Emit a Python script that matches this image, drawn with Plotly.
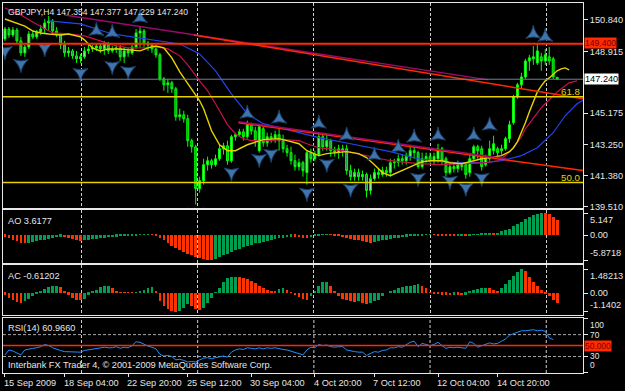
import plotly.graph_objects as go

# ---------------- data ----------------
bars = list(range(140))
opens = [149.69,150.29,149.93,150.23,149.57,148.84,149.20,149.99,149.81,150.11,
         150.29,150.66,150.78,150.17,149.99,149.32,148.84,148.96,148.66,148.48,
         148.60,148.96,149.08,149.14,149.26,149.08,149.38,148.96,149.08,149.14,
         148.60,148.96,148.84,149.20,150.05,150.17,149.44,149.32,149.08,148.72,
         147.26,146.90,147.02,146.66,144.96,145.08,144.84,143.51,143.14,140.60,
         141.08,142.05,142.29,142.05,142.41,143.02,143.20,142.29,143.75,143.87,
         144.05,143.75,144.48,144.11,142.90,144.23,143.38,143.75,143.63,143.87,
         143.51,143.02,142.78,142.29,141.93,142.17,141.57,142.78,142.41,142.66,
         143.75,143.14,143.51,142.90,142.78,143.02,143.02,141.69,141.32,141.57,
         141.32,141.45,140.48,141.20,141.57,141.45,141.69,141.57,142.17,142.20,
         142.41,142.29,142.54,142.90,142.78,141.93,142.41,142.54,142.29,142.41,
         143.02,142.41,141.57,141.93,141.81,142.05,142.05,141.57,142.41,143.14,
         143.02,142.05,142.41,142.90,143.02,142.90,143.02,143.63,144.60,146.17,
         146.90,147.38,148.35,148.48,148.23,148.60,148.35,148.60,148.48,147.354]
highs = [150.41,150.41,150.41,150.35,149.81,149.32,150.17,150.17,150.23,150.54,
         150.90,151.08,150.90,150.41,150.05,149.57,149.20,149.08,148.96,148.78,
         149.20,149.32,149.32,149.44,149.44,149.57,149.51,149.26,149.32,149.32,
         149.20,149.14,149.32,150.29,150.41,150.29,149.57,149.44,149.20,148.84,
         147.38,147.26,147.14,146.78,145.45,145.32,145.08,143.63,143.26,141.32,
         142.41,142.54,142.41,142.66,143.26,143.38,143.51,143.87,143.99,144.23,
         144.23,144.72,144.60,144.35,144.48,144.35,143.99,143.99,144.11,144.23,
         143.87,143.26,143.14,142.66,142.41,142.29,142.90,143.02,142.90,143.99,
         143.87,143.87,143.63,143.14,143.26,143.26,143.26,142.05,141.81,141.81,
         141.69,141.57,141.45,141.81,141.81,141.93,141.93,142.41,142.41,142.66,
         142.66,142.78,143.14,143.14,142.90,142.78,142.78,142.78,142.78,143.32,
         143.14,142.54,142.17,142.17,142.29,142.17,142.17,142.66,143.26,143.26,
         143.20,142.66,143.51,143.81,143.14,143.26,143.75,144.72,146.29,147.02,
         147.63,148.48,148.72,149.26,149.38,148.84,149.08,149.20,148.60,147.377]
lows = [149.57,149.75,149.81,149.44,148.66,148.60,149.08,149.69,149.69,149.93,
        150.05,150.17,149.93,149.81,149.08,148.60,148.60,148.48,148.23,148.23,
        148.48,148.78,148.90,148.96,148.84,148.72,148.78,148.84,148.84,148.35,
        148.23,148.60,148.72,149.08,149.20,149.20,148.96,148.84,148.54,147.14,
        146.54,146.41,146.41,144.72,144.72,144.60,143.14,142.78,139.63,140.35,
        140.84,141.69,141.81,141.93,142.29,142.66,142.05,142.17,143.51,143.75,
        143.51,143.63,143.87,143.14,142.78,143.14,143.14,143.38,143.38,142.90,
        142.78,142.54,142.05,141.69,141.69,141.32,140.84,142.17,142.29,142.54,
        142.90,142.90,142.54,142.54,142.41,142.54,141.45,141.08,141.08,141.08,
        141.08,140.05,140.23,141.08,141.20,141.32,141.32,141.32,141.81,141.93,
        142.05,142.05,142.29,142.41,141.81,141.81,142.17,142.17,142.05,142.17,
        142.05,141.32,141.45,141.57,141.57,141.69,141.20,141.32,142.29,142.41,
        141.69,141.93,142.29,142.66,142.54,142.66,142.90,143.38,144.48,146.05,
        146.66,147.26,147.75,148.11,148.11,147.75,148.11,148.11,147.26,147.229]
closes = [150.29,149.93,150.23,149.57,148.84,149.20,149.99,149.81,150.11,150.29,
          150.66,150.78,150.17,149.99,149.32,148.84,148.96,148.66,148.48,148.60,
          148.96,149.08,149.14,149.26,149.08,149.38,148.96,149.08,149.14,148.60,
          148.96,148.84,149.20,150.05,150.17,149.44,149.32,149.08,148.72,147.26,
          146.90,147.02,146.66,144.96,145.08,144.84,143.51,143.14,140.60,141.08,
          142.05,142.29,142.05,142.41,143.02,143.20,142.29,143.75,143.87,144.05,
          143.75,144.48,144.11,143.51,144.35,143.38,143.75,143.63,143.87,143.51,
          143.02,142.78,142.29,141.93,142.17,141.69,142.78,142.41,142.66,143.75,
          143.14,143.51,142.90,142.78,143.02,142.90,141.69,141.32,141.57,141.32,
          141.45,140.48,141.20,141.57,141.45,141.69,141.57,142.17,142.20,142.41,
          142.29,142.54,142.90,142.78,141.93,142.41,142.54,142.29,142.54,143.02,
          142.29,141.57,141.93,141.81,142.05,141.93,141.45,142.41,143.14,142.90,
          141.93,142.41,143.02,143.32,142.78,143.02,143.63,144.48,146.17,146.90,
          147.38,148.35,148.54,148.60,148.96,148.35,148.72,148.35,147.38,147.240]

# Alligator lines (bar index, price)
lips_bars = [0,3,5,7,9,11,14,16,19,20,22,24,26,29,31,34,36,38,40,42,44,47,49,50,51,52,54,56,58,61,
             65,69,71,74,76,79,81,84,86,89,91,93,94,95,97,100,102,105,107,110,112,115,117,120,122,125,
             127,128,129,130,131,132,133,134,135,136,137,138,139,140,141,142]
lips_vals = [150.90,150.66,150.47,150.17,150.05,149.99,149.93,149.99,149.81,149.63,149.14,148.96,149.08,149.08,
             149.02,148.96,149.14,149.26,149.14,148.54,147.69,146.66,145.93,145.45,144.84,144.11,143.26,142.90,
             142.90,143.26,143.57,143.63,143.51,143.32,142.90,142.60,142.72,142.78,142.84,142.72,142.48,142.05,
             141.81,141.57,141.38,141.69,141.93,142.23,142.29,142.29,142.17,142.11,142.23,142.41,142.48,142.60,
             142.84,143.08,143.45,143.99,144.60,145.26,145.93,146.47,146.84,147.14,147.32,147.51,147.75,147.87,
             147.93,147.81]
teeth_bars = [0,4,7,10,12,16,20,24,27,31,35,38,41,44,46,49,51,53,56,58,60,62,66,70,74,76,79,85,91,97,
              104,110,116,121,124,126,128,130,131,133,135,137,139,141,142,144]
teeth_vals = [151.57,151.14,150.72,150.29,150.05,149.99,149.87,149.57,149.32,149.14,149.14,149.20,149.08,148.66,
              148.11,147.14,146.54,145.75,144.48,143.93,143.63,143.51,143.51,143.57,143.51,143.32,143.08,142.90,
              142.60,142.29,142.11,142.05,142.11,142.17,142.29,142.60,143.08,143.75,144.23,144.84,145.51,145.99,
              146.47,146.84,147.02,147.14]
jaw_bars = [11,19,27,34,39,44,49,53,57,61,65,70,79,87,97,104,113,121,125,130,134,138,141,144,147]
jaw_vals = [150.78,150.60,149.99,149.75,149.57,149.38,148.78,147.75,146.35,145.14,144.54,144.23,143.69,143.32,
            142.84,142.41,142.17,142.17,142.29,142.60,143.08,143.99,145.02,145.75,146.17]

# trend lines (bar, price) pairs
trend_x0 = [15, 47.5, 58.75, 58.75]
trend_y0 = [151.14, 149.93, 144.60, 144.66]
trend_x1 = [121.75, 145.5, 145.5, 126.25]
trend_y1 = [147.20, 146.05, 141.69, 142.41]
trend_colors = ["#9A0A6A", "#FF2A00", "#FF2A00", "#9A0A6A"]

# fractals
frac_up_bars = [23, 27, 34, 61, 69, 79, 86, 93, 99, 103, 109, 118, 122, 133, 136]
frac_up_vals = [150.17, 150.05, 150.96, 145.14, 144.84, 144.54, 143.81, 142.60, 143.08, 143.69,
                143.81, 143.81, 144.42, 149.99, 149.81]
frac_dn_bars = [0, 4, 10, 19, 27, 31, 48, 57, 64, 67, 76, 81, 87, 104, 112, 116, 120]
frac_dn_vals = [148.96, 148.17, 149.14, 147.63, 148.05, 147.75, 139.14, 141.57, 142.41, 142.72,
                140.35, 142.11, 140.60, 141.26, 141.08, 140.66, 141.26]

# Awesome oscillator
ao_vals = [-0.4,-0.8,-1.1,-1.5,-1.8,-2.0,-1.9,-1.7,-1.5,-1.3,-1.1,-0.9,-0.8,-0.6,-0.45,-0.5,-0.7,-0.9,-1.2,-1.4,
           -1.3,-1.1,-1.0,-0.9,-0.8,-0.7,-0.6,-0.5,-0.4,-0.35,-0.3,-0.25,-0.2,-0.1,0.02,0.1,0.15,0.1,-0.2,-0.7,
           -1.3,-1.9,-2.5,-3.1,-3.6,-4.0,-4.4,-4.8,-5.1,-5.45,-5.7,-5.85,-5.87,-5.6,-5.2,-4.8,-4.4,-4.0,-3.6,-3.2,
           -2.9,-2.6,-2.3,-2.0,-1.8,-1.6,-1.4,-1.2,-1.0,-0.8,-0.7,-0.5,-0.4,-0.45,-0.6,-0.7,-0.8,-0.6,-0.3,-0.1,
           0.1,0.2,0.15,-0.1,-0.3,-0.5,-0.7,-0.9,-1.1,-1.3,-1.5,-1.7,-1.8,-1.6,-1.4,-1.3,-1.1,-1.0,-0.8,-0.7,
           -0.55,-0.45,-0.35,-0.25,-0.15,-0.1,0.05,0.1,0.05,-0.05,-0.1,-0.15,-0.2,-0.25,-0.2,-0.15,-0.2,-0.1,0.1,0.2,
           0.25,0.3,0.35,0.3,0.5,0.8,1.1,1.5,2.0,2.6,3.1,3.7,4.2,4.7,5.0,5.147,5.1,4.8,4.3,3.6177]
# bar colour runs (direction, number of bars)
ao_dir_runs = [("r", 6), ("g", 9), ("r", 5), ("g", 17), ("r", 16), ("g", 20), ("r", 4), ("g", 5),
               ("r", 11), ("g", 15), ("r", 6), ("g", 2), ("r", 1), ("g", 6), ("r", 1), ("g", 12), ("r", 4)]

# Accelerator oscillator
ac_vals = [-0.1,-0.3,-0.45,-0.55,-0.6,-0.5,-0.35,-0.2,-0.05,0.1,0.25,0.35,0.45,0.45,0.35,0.15,-0.1,-0.3,-0.4,-0.45,
           -0.35,-0.1,0.1,0.2,0.35,0.4,0.4,0.3,0.15,0.05,0.03,0.02,0.02,0.03,0.1,0.2,0.3,0.35,0.1,-0.5,
           -0.8,-1.0,-1.1,-1.14,-1.1,-0.9,-0.7,-0.8,-0.95,-1.05,-0.9,-0.6,-0.3,0.05,0.3,0.7,0.9,0.95,0.97,0.95,
           0.9,0.85,0.75,0.6,0.45,0.3,0.2,0.15,0.12,0.25,0.3,0.2,0.05,-0.15,-0.25,-0.35,-0.45,-0.2,0.15,0.45,
           0.65,0.7,0.45,0.1,-0.2,-0.35,-0.45,-0.5,-0.55,-0.5,-0.6,-0.65,-0.6,-0.5,-0.4,-0.2,0.0,0.1,0.2,0.3,
           0.35,0.4,0.45,0.5,0.55,0.4,0.3,0.02,-0.05,-0.08,-0.1,-0.12,-0.15,-0.1,-0.12,-0.15,-0.1,0.1,0.2,0.25,
           0.3,0.32,0.3,0.2,0.15,0.3,0.55,0.8,1.05,1.3,1.48213,1.35,1.0,0.7,0.4,0.2,-0.05,-0.2,-0.4,-0.61202]
ac_dir_runs = [("r", 5), ("g", 9), ("r", 6), ("g", 7), ("r", 6), ("g", 5), ("r", 6), ("g", 3), ("r", 3),
               ("g", 9), ("r", 10), ("g", 2), ("r", 6), ("g", 5), ("r", 7), ("g", 1), ("r", 2), ("g", 13),
               ("r", 8), ("g", 1), ("r", 2), ("g", 6), ("r", 3), ("g", 6), ("r", 9)]

# RSI(14)
rsi_vals = [33,42,40,37,33,42,44,45,46,48,52,50,46,43,41,39,39,38,38,38,
            41,42,44,45,46,47,46,46,48,45,47,46,50,57,56,52,49,47,44,34,
            31,32,30,24,25,23,20,21,20,24,27,28,26,28,30,31,29,38,42,44,
            43,46,45,44,46,44,46,45,46,44,43,42,40,37,36,33,42,47,46,52,
            50,51,48,47,48,48,42,40,39,38,38,32,36,39,38,41,42,46,46,48,
            47,51,56,58,48,54,52,50,52,56,50,45,47,46,47,46,45,57,54,47,
            50,53,55,53,54,58,62,69,72,74,77,77,78,79,77,78,76,64,60.966]

price_ticks = [150.840, 148.915, 145.175, 143.250, 141.380, 139.510]
resistance_level = 149.400
bid_price = 147.240
fib_levels = [146.17, 140.96]
fib_labels = ["61.8", "50.0"]
time_label_bars = [0, 15, 31, 46, 62, 78, 93, 109, 124]
time_labels = ["15 Sep 2009", "18 Sep 04:00", "22 Sep 20:00", "25 Sep 12:00", "30 Sep 04:00",
               "4 Oct 20:00", "7 Oct 12:00", "12 Oct 04:00", "14 Oct 20:00"]
grid_bars = [19.25, 48.5, 77.75, 107.0, 136.25]
ao_labels = [5.147, 0.0, -5.8718]
ac_labels = [1.48213, 0.0, -1.1402]
rsi_labels = [100, 70, 30, 0]
rsi_levels = [70, 30]
rsi_mid = 50.0

# ---------------- styling ----------------
FONT = "Liberation Sans, Arial, sans-serif"
FS = 9.2
TXT = "#E6E6E6"
FRAME = "#E8E8E8"
GREEN = "#009E50"
RED = "#FF3300"
XR = [-0.5, 145.5]


def expand(runs):
    out = []
    for d, n in runs:
        out.extend([d] * n)
    return out


ao_colors = [GREEN if d == "g" else RED for d in expand(ao_dir_runs)]
ac_colors = [GREEN if d == "g" else RED for d in expand(ac_dir_runs)]

fig = go.Figure()

fig.add_trace(go.Candlestick(
    x=bars, open=opens, high=highs, low=lows, close=closes,
    increasing=dict(line=dict(color="#00FF00", width=1), fillcolor="#8CF08C"),
    decreasing=dict(line=dict(color="#00FF00", width=1), fillcolor="#1F8F4F"),
    whiskerwidth=0, xaxis="x", yaxis="y", showlegend=False, hoverinfo="skip"))

for bx, vy, col, w in [(jaw_bars, jaw_vals, "#2244EE", 1.2),
                       (teeth_bars, teeth_vals, "#C8104A", 1.2),
                       (lips_bars, lips_vals, "#E6D200", 1.4)]:
    fig.add_trace(go.Scatter(x=bx, y=vy, mode="lines", line=dict(color=col, width=w),
                             xaxis="x", yaxis="y", showlegend=False, hoverinfo="skip"))

for x0, y0, x1, y1, col in zip(trend_x0, trend_y0, trend_x1, trend_y1, trend_colors):
    fig.add_trace(go.Scatter(x=[x0, x1], y=[y0, y1], mode="lines", line=dict(color=col, width=1.5),
                             xaxis="x", yaxis="y", showlegend=False, hoverinfo="skip"))

fig.add_trace(go.Scatter(x=frac_up_bars, y=frac_up_vals, mode="markers",
                         marker=dict(symbol="star-triangle-up", size=11, color="#3F74AE",
                                     line=dict(color="#1B3F66", width=1)),
                         xaxis="x", yaxis="y", showlegend=False, hoverinfo="skip"))
fig.add_trace(go.Scatter(x=frac_dn_bars, y=frac_dn_vals, mode="markers",
                         marker=dict(symbol="star-triangle-down", size=11, color="#3F74AE",
                                     line=dict(color="#1B3F66", width=1)),
                         xaxis="x", yaxis="y", showlegend=False, hoverinfo="skip"))

fig.add_trace(go.Bar(x=bars, y=ao_vals, width=0.68,
                     marker=dict(color=ao_colors, line=dict(width=0)),
                     xaxis="x2", yaxis="y2", showlegend=False, hoverinfo="skip"))
fig.add_trace(go.Bar(x=bars, y=ac_vals, width=0.68,
                     marker=dict(color=ac_colors, line=dict(width=0)),
                     xaxis="x3", yaxis="y3", showlegend=False, hoverinfo="skip"))
fig.add_trace(go.Scatter(x=bars, y=rsi_vals, mode="lines", line=dict(color="#1E90FF", width=1),
                         xaxis="x4", yaxis="y4", showlegend=False, hoverinfo="skip"))


# ---------------- axes ----------------
def xax(anchor, grid=True):
    return dict(domain=[0, 1], range=XR, anchor=anchor, showticklabels=False,
                tickvals=grid_bars, showgrid=grid, gridcolor="#CFCFCF", griddash="3px,2px", gridwidth=1,
                ticks="", showline=True, mirror=True, linecolor=FRAME, linewidth=1, zeroline=False,
                fixedrange=True)


def yax(dom, rng, tv, anchor, ticktext=None):
    d = dict(domain=dom, range=rng, side="right", anchor=anchor, tickvals=tv, ticks="outside",
             ticklen=4, tickcolor=FRAME, showgrid=False, showline=True, mirror=True,
             linecolor=FRAME, linewidth=1, zeroline=False, fixedrange=True,
             tickfont=dict(family=FONT, size=FS, color=TXT))
    if ticktext is None:
        d["showticklabels"] = False
    else:
        d["ticktext"] = ticktext
    return d


fig.update_layout(
    width=625, height=391, margin=dict(l=3, r=38, t=2, b=18),
    paper_bgcolor="black", plot_bgcolor="black", showlegend=False, bargap=0,
    xaxis=dict(xax("y"), rangeslider=dict(visible=False)),
    xaxis2=xax("y2"), xaxis3=xax("y3"),
    xaxis4=dict(xax("y4", grid=False), tickvals=time_label_bars, ticks="outside", ticklen=3,
                tickcolor=FRAME),
    yaxis=yax([0.4447, 1.0], [139.39, 151.87], price_ticks, "x", ["%.3f" % v for v in price_ticks]),
    yaxis2=yax([0.2965, 0.4394], [-6.575, 5.85], ao_labels, "x2"),
    yaxis3=yax([0.1563, 0.2911], [-1.34, 1.71], ac_labels, "x3"),
    yaxis4=yax([0.0, 0.1482], [0, 100], rsi_labels, "x4"),
)

# ---------------- lines ----------------
shapes = []
shapes.append(dict(type="line", xref="x domain", x0=0, x1=1, yref="y", y0=bid_price, y1=bid_price,
                   line=dict(color="#6E8394", width=1), layer="above"))
shapes.append(dict(type="line", xref="x domain", x0=0, x1=1, yref="y", y0=resistance_level,
                   y1=resistance_level, line=dict(color="#FF2A00", width=2), layer="above"))
for lv in fib_levels:
    shapes.append(dict(type="line", xref="x domain", x0=0, x1=1, yref="y", y0=lv, y1=lv,
                       line=dict(color="#E6D200", width=1.5), layer="above"))
for g in grid_bars:
    shapes.append(dict(type="line", xref="x4", x0=g, x1=g, yref="y4 domain", y0=0, y1=1,
                       line=dict(color="#CFCFCF", width=1, dash="3px,2px"), layer="below"))
for lv in rsi_levels:
    shapes.append(dict(type="line", xref="x4 domain", x0=0, x1=1, yref="y4", y0=lv, y1=lv,
                       line=dict(color="#A8A8A8", width=1, dash="3px,2px"), layer="below"))
shapes.append(dict(type="line", xref="x4 domain", x0=0, x1=1, yref="y4", y0=rsi_mid, y1=rsi_mid,
                   line=dict(color="#FF2A00", width=1.5), layer="above"))
fig.update_layout(shapes=shapes)

# ---------------- text ----------------
ann = []


def txt(text, **kw):
    d = dict(text=text, showarrow=False, font=dict(family=FONT, size=FS, color=TXT))
    d.update(kw)
    ann.append(d)


txt("GBPJPY,H4 %.3f %.3f %.3f %.3f" % (opens[-1], highs[-1], lows[-1], closes[-1]),
    xref="paper", yref="paper", x=0, y=1, xanchor="left", yanchor="top", xshift=3, yshift=-2,
    font=dict(family=FONT, size=8.6, color=TXT))
txt("AO %.4f" % ao_vals[-1], xref="paper", yref="paper", x=0, y=0.4394, xanchor="left",
    yanchor="top", xshift=3, yshift=-4)
txt("AC %.5f" % ac_vals[-1], xref="paper", yref="paper", x=0, y=0.2911, xanchor="left",
    yanchor="top", xshift=3, yshift=-4)
txt("RSI(14) %.4f" % rsi_vals[-1], xref="paper", yref="paper", x=0, y=0.1482, xanchor="left",
    yanchor="top", xshift=3, yshift=-3)
txt("Interbank FX Trader 4, © 2001-2009 MetaQuotes Software Corp.", xref="paper", yref="paper",
    x=0, y=0, xanchor="left", yanchor="bottom", xshift=3, yshift=1)

for b, lab in zip(time_label_bars, time_labels):
    txt(lab, xref="x4", yref="paper", x=b, y=0, xanchor="left", yanchor="top", xshift=-3, yshift=-3)

# price boxes
txt("%.3f" % resistance_level, xref="paper", yref="y", x=1, y=resistance_level, xanchor="left",
    yanchor="middle", bgcolor="#FF2A00", font=dict(family=FONT, size=8.6, color="#7A0000"), borderpad=0,
    xshift=1, yshift=1)
txt("%.3f" % bid_price, xref="paper", yref="y", x=1, y=bid_price, xanchor="left",
    yanchor="middle", bgcolor="#FFFFFF", font=dict(family=FONT, size=FS, color="#000000"), borderpad=0,
    xshift=1)
for lv, lab in zip(fib_levels, fib_labels):
    txt(lab, xref="x", yref="y", x=XR[1] - 0.3, y=lv, xanchor="right", yanchor="bottom",
        font=dict(family=FONT, size=FS + 0.5, color="#E6D200"), yshift=-2)

# AO / AC labels
for ref, labs, fmt in [("y2", ao_labels, ["%.3f", "%.2f", "%.4f"]), ("y3", ac_labels, ["%.5f", "%.2f", "%.4f"])]:
    for v, f, anc in zip(labs, fmt, ["top", "middle", "bottom"]):
        txt(f % v, xref="paper", yref=ref, x=1, y=v, xanchor="left", yanchor=anc, xshift=5)
RFS = 8.4
for v, anc, ys in zip(rsi_labels, ["top", "middle", "middle", "bottom"], [0, 0, 1, 1]):
    txt(str(v), xref="paper", yref="y4", x=1, y=v, xanchor="left", yanchor=anc, xshift=5, yshift=ys,
        font=dict(family=FONT, size=RFS, color=TXT))
txt("%.3f" % rsi_mid, xref="paper", yref="y4", x=1, y=rsi_mid, xanchor="left", yanchor="middle",
    bgcolor="#FF2A00", font=dict(family=FONT, size=RFS, color="#7A0000"), borderpad=0, xshift=1)

fig.update_layout(annotations=ann)
fig.write_html("out.html")
